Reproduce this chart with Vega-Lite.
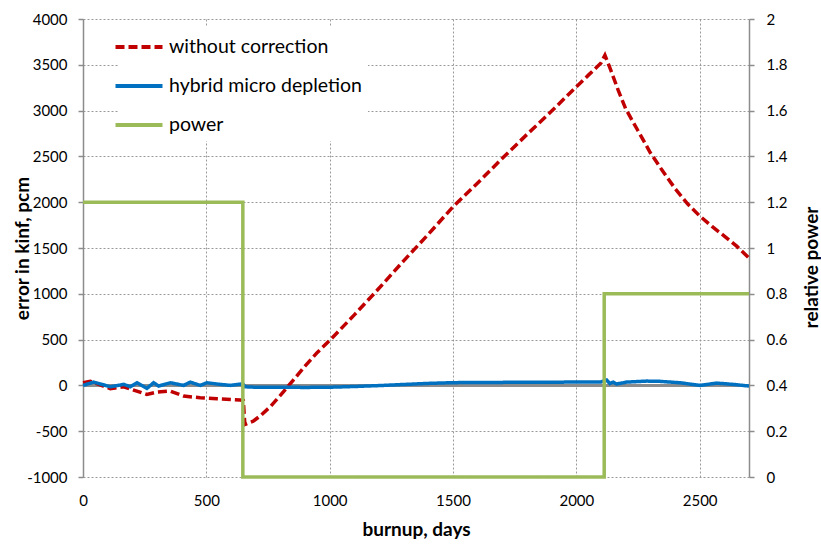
{
  "$schema": "https://vega.github.io/schema/vega-lite/v6.json",
  "width": 666,
  "height": 458,
  "autosize": {"type": "none"},
  "padding": {"left": 83, "top": 19, "right": 72, "bottom": 68},
  "background": "white",
  "config": {
    "font": "Lato",
    "view": {"stroke": null},
    "axis": {
      "labelFont": "Lato",
      "labelFontSize": 15,
      "labelColor": "#000000",
      "titleFont": "Lato",
      "titleFontSize": 19,
      "titleFontWeight": "bold",
      "titleColor": "#000000",
      "gridColor": "#9a9a9a",
      "gridDash": [2, 2],
      "gridWidth": 1,
      "domainColor": "#8c8c8c",
      "domainWidth": 1.5,
      "tickColor": "#8c8c8c",
      "tickWidth": 1.5
    },
    "legend": {
      "orient": "none",
      "legendX": 36,
      "legendY": 8,
      "fillColor": "white",
      "padding": 6,
      "labelFont": "Lato",
      "labelFontSize": 19.5,
      "labelColor": "#000000",
      "labelLimit": 0,
      "symbolType": "M-2,0H2",
      "symbolSize": 552,
      "symbolStrokeWidth": 4,
      "rowPadding": 15,
      "labelOffset": 16,
      "title": null
    }
  },
  "datasets": {
    "series": [
      {"series": "without correction", "day": 0, "value": 30},
      {"series": "without correction", "day": 30, "value": 45},
      {"series": "without correction", "day": 111, "value": -36},
      {"series": "without correction", "day": 165, "value": -15},
      {"series": "without correction", "day": 259, "value": -98},
      {"series": "without correction", "day": 300, "value": -73},
      {"series": "without correction", "day": 354, "value": -62},
      {"series": "without correction", "day": 408, "value": -116},
      {"series": "without correction", "day": 475, "value": -135},
      {"series": "without correction", "day": 543, "value": -146},
      {"series": "without correction", "day": 637, "value": -160},
      {"series": "without correction", "day": 650, "value": -165},
      {"series": "without correction", "day": 656, "value": -426},
      {"series": "without correction", "day": 690, "value": -390},
      {"series": "without correction", "day": 720, "value": -330},
      {"series": "without correction", "day": 760, "value": -230},
      {"series": "without correction", "day": 800, "value": -110},
      {"series": "without correction", "day": 850, "value": 50},
      {"series": "without correction", "day": 900, "value": 210},
      {"series": "without correction", "day": 950, "value": 360},
      {"series": "without correction", "day": 1000, "value": 490},
      {"series": "without correction", "day": 1100, "value": 770},
      {"series": "without correction", "day": 1200, "value": 1060},
      {"series": "without correction", "day": 1300, "value": 1360},
      {"series": "without correction", "day": 1400, "value": 1650},
      {"series": "without correction", "day": 1500, "value": 1950},
      {"series": "without correction", "day": 1600, "value": 2210},
      {"series": "without correction", "day": 1700, "value": 2480},
      {"series": "without correction", "day": 1800, "value": 2740},
      {"series": "without correction", "day": 1900, "value": 2995},
      {"series": "without correction", "day": 2000, "value": 3260},
      {"series": "without correction", "day": 2050, "value": 3390},
      {"series": "without correction", "day": 2100, "value": 3520},
      {"series": "without correction", "day": 2116, "value": 3605},
      {"series": "without correction", "day": 2140, "value": 3440},
      {"series": "without correction", "day": 2170, "value": 3220},
      {"series": "without correction", "day": 2200, "value": 3020},
      {"series": "without correction", "day": 2250, "value": 2780},
      {"series": "without correction", "day": 2300, "value": 2540},
      {"series": "without correction", "day": 2350, "value": 2340},
      {"series": "without correction", "day": 2400, "value": 2150},
      {"series": "without correction", "day": 2450, "value": 1985},
      {"series": "without correction", "day": 2500, "value": 1850},
      {"series": "without correction", "day": 2550, "value": 1735},
      {"series": "without correction", "day": 2600, "value": 1630},
      {"series": "without correction", "day": 2650, "value": 1520},
      {"series": "without correction", "day": 2700, "value": 1390},
      {"series": "hybrid micro depletion", "day": 0, "value": 0},
      {"series": "hybrid micro depletion", "day": 43, "value": 36},
      {"series": "hybrid micro depletion", "day": 111, "value": -15},
      {"series": "hybrid micro depletion", "day": 165, "value": 11},
      {"series": "hybrid micro depletion", "day": 192, "value": -15},
      {"series": "hybrid micro depletion", "day": 219, "value": 29},
      {"series": "hybrid micro depletion", "day": 259, "value": -33},
      {"series": "hybrid micro depletion", "day": 286, "value": 29},
      {"series": "hybrid micro depletion", "day": 307, "value": -7},
      {"series": "hybrid micro depletion", "day": 354, "value": 29},
      {"series": "hybrid micro depletion", "day": 408, "value": 0},
      {"series": "hybrid micro depletion", "day": 435, "value": 36},
      {"series": "hybrid micro depletion", "day": 475, "value": 0},
      {"series": "hybrid micro depletion", "day": 502, "value": 29},
      {"series": "hybrid micro depletion", "day": 556, "value": 11},
      {"series": "hybrid micro depletion", "day": 597, "value": 0},
      {"series": "hybrid micro depletion", "day": 637, "value": 14},
      {"series": "hybrid micro depletion", "day": 650, "value": 10},
      {"series": "hybrid micro depletion", "day": 657, "value": -15},
      {"series": "hybrid micro depletion", "day": 700, "value": -20},
      {"series": "hybrid micro depletion", "day": 800, "value": -20},
      {"series": "hybrid micro depletion", "day": 900, "value": -22},
      {"series": "hybrid micro depletion", "day": 1000, "value": -20},
      {"series": "hybrid micro depletion", "day": 1100, "value": -12},
      {"series": "hybrid micro depletion", "day": 1200, "value": -2},
      {"series": "hybrid micro depletion", "day": 1300, "value": 10},
      {"series": "hybrid micro depletion", "day": 1400, "value": 22},
      {"series": "hybrid micro depletion", "day": 1500, "value": 30},
      {"series": "hybrid micro depletion", "day": 1700, "value": 33},
      {"series": "hybrid micro depletion", "day": 1900, "value": 35},
      {"series": "hybrid micro depletion", "day": 2100, "value": 38},
      {"series": "hybrid micro depletion", "day": 2123, "value": 58},
      {"series": "hybrid micro depletion", "day": 2136, "value": 20},
      {"series": "hybrid micro depletion", "day": 2150, "value": 36},
      {"series": "hybrid micro depletion", "day": 2163, "value": 15},
      {"series": "hybrid micro depletion", "day": 2204, "value": 36},
      {"series": "hybrid micro depletion", "day": 2285, "value": 47},
      {"series": "hybrid micro depletion", "day": 2339, "value": 44},
      {"series": "hybrid micro depletion", "day": 2420, "value": 29},
      {"series": "hybrid micro depletion", "day": 2501, "value": 0},
      {"series": "hybrid micro depletion", "day": 2569, "value": 25},
      {"series": "hybrid micro depletion", "day": 2636, "value": 11},
      {"series": "hybrid micro depletion", "day": 2700, "value": -7},
      {"series": "power", "day": 0, "value": 1.2},
      {"series": "power", "day": 648, "value": 0},
      {"series": "power", "day": 2113, "value": 0.8},
      {"series": "power", "day": 2700, "value": 0.8}
    ]
  },
  "data": {"name": "series"},
  "layer": [
    {
      "layer": [
        {
          "mark": {"type": "rule", "color": "#8c8c8c", "strokeWidth": 1.5},
          "encoding": {
            "y": {"datum": 0, "type": "quantitative"}
          }
        },
        {
          "transform": [{"filter": "datum.series !== 'power'"}],
          "mark": {"type": "line", "strokeWidth": 3.5},
          "encoding": {
            "x": {
              "field": "day",
              "type": "quantitative",
              "scale": {"domain": [0, 2700], "nice": false, "zero": false},
              "axis": {
                "title": "burnup, days",
                "values": [0, 500, 1000, 1500, 2000, 2500],
                "labelExpr": "'' + datum.value",
                "labelFlush": false,
                "grid": true,
                "domain": false,
                "ticks": false,
                "labelPadding": 16,
                "titlePadding": 12
              }
            },
            "y": {
              "field": "value",
              "type": "quantitative",
              "scale": {"domain": [-1000, 4000], "nice": false, "zero": false},
              "axis": {
                "title": "error in kinf, pcm",
                "orient": "left",
                "values": [-1000, -500, 0, 500, 1000, 1500, 2000, 2500, 3000, 3500, 4000],
                "labelExpr": "'' + datum.value",
                "grid": true,
                "tickSize": 5,
                "labelPadding": 11,
                "titleX": -51,
                "titleY": 229,
                "titleAngle": 270,
                "titleBaseline": "bottom"
              }
            },
            "color": {
              "field": "series",
              "type": "nominal",
              "scale": {
                "domain": ["without correction", "hybrid micro depletion", "power"],
                "range": ["#C00000", "#0070C0", "#9BBB59"]
              }
            },
            "strokeDash": {
              "field": "series",
              "type": "nominal",
              "scale": {
                "domain": ["without correction", "hybrid micro depletion", "power"],
                "range": [[9, 4], [1, 0], [1, 0]]
              }
            }
          }
        }
      ]
    },
    {
      "transform": [{"filter": "datum.series === 'power'"}],
      "mark": {"type": "line", "strokeWidth": 3.5, "interpolate": "step-after"},
      "encoding": {
        "x": {"field": "day", "type": "quantitative"},
        "y": {
          "field": "value",
          "type": "quantitative",
          "scale": {"domain": [0, 2], "nice": false, "zero": false},
          "axis": {
            "title": "relative power",
            "orient": "right",
            "values": [0, 0.2, 0.4, 0.6, 0.8, 1, 1.2, 1.4, 1.6, 1.8, 2],
            "labelExpr": "'' + datum.value",
            "grid": false,
            "tickSize": 5,
            "labelPadding": 12,
            "titleX": 72,
            "titleY": 248,
            "titleAngle": 270,
            "titleBaseline": "bottom"
          }
        },
        "color": {
          "field": "series",
          "type": "nominal",
          "scale": {
            "domain": ["without correction", "hybrid micro depletion", "power"],
            "range": ["#C00000", "#0070C0", "#9BBB59"]
          }
        },
        "strokeDash": {
          "field": "series",
          "type": "nominal",
          "scale": {
            "domain": ["without correction", "hybrid micro depletion", "power"],
            "range": [[9, 4], [1, 0], [1, 0]]
          }
        }
      }
    }
  ],
  "resolve": {"scale": {"y": "independent"}}
}
